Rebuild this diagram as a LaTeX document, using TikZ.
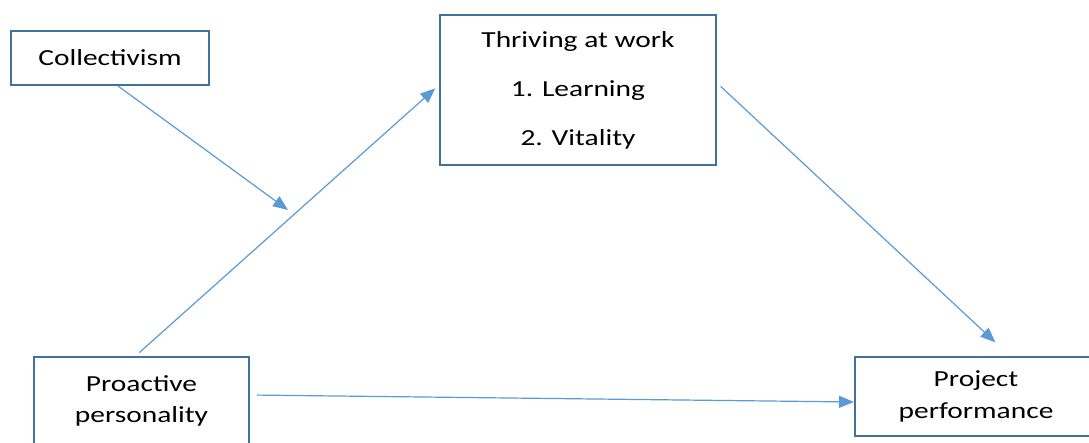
\documentclass[tikz,border=0pt]{standalone}
\usepackage{fontspec}
\setmainfont[FakeStretch=1.28]{Carlito}
\usetikzlibrary{arrows.meta}
\begin{document}
\begin{tikzpicture}[x=1pt,y=-1pt]
\definecolor{drawColor}{RGB}{65,113,156}
\definecolor{arrowColor}{RGB}{91,155,213}
\tikzset{
  boxNode/.style={draw=drawColor,line width=2pt,fill=white,inner sep=0pt,
    align=center,text=black},
  pathArrow/.style={draw=arrowColor,line width=1.2pt,
    -{Triangle[length=15pt,width=12pt]}}
}
\path[use as bounding box,fill=white] (0,0) rectangle (1089,443);
\begin{scope}
\path[clip] (0,0) rectangle (1089,443);

\node[boxNode,minimum width=198pt,minimum height=54pt,
  font=\fontsize{23}{28}\selectfont] (coll) at (110,58) {Collectivism};

\node[boxNode,minimum width=276pt,minimum height=150pt,
  font=\fontsize{23}{49}\selectfont] (thr) at (578,90)
  {Thriving at work\\1. Learning\\2. Vitality};

\node[boxNode,minimum width=215pt,minimum height=88pt,
  font=\fontsize{23}{31.5}\selectfont] (pro) at (141.5,401)
  {Proactive\\personality};

\node[boxNode,minimum width=242pt,minimum height=79pt,
  font=\fontsize{23}{31.5}\selectfont] (prj) at (976,396.5)
  {Project\\performance};

\coordinate (mod) at (288,210);

\draw[pathArrow] ([xshift=8pt]coll.south) -- (mod);
\draw[pathArrow,shorten <=5pt,shorten >=5pt] ([xshift=-6pt]pro.north) -- ([yshift=5pt]thr.west);
\draw[pathArrow,shorten <=5pt,shorten >=20pt] ([yshift=7pt]thr.east) -- ([xshift=34pt]prj.north);
\draw[pathArrow,shorten <=7pt] ([yshift=6pt]pro.east) -- ([yshift=-5.5pt]prj.west);
\end{scope}
\end{tikzpicture}
\end{document}
